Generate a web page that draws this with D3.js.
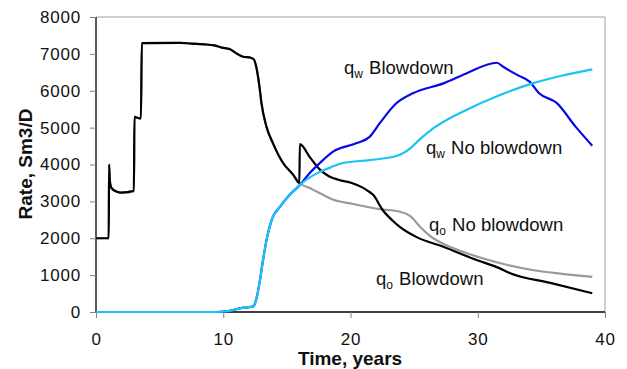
<!DOCTYPE html>
<html>
<head>
<meta charset="utf-8">
<script src="https://d3js.org/d3.v7.min.js"></script>
<style>
  html, body { margin: 0; padding: 0; background: #fff; }
  svg { display: block; font-family: "Liberation Sans", Arial, sans-serif; }
</style>
</head>
<body>
<svg id="chart" width="627" height="369"></svg>
<script>
// Axis ticks
const xTicks = [0, 10, 20, 30, 40];
const yTicks = [0, 1000, 2000, 3000, 4000, 5000, 6000, 7000, 8000];

// Oil rate, blowdown case (time in years, rate in Sm3/D)
const oilBlowT = [0, 1.0, 1.03, 1.08, 1.15, 1.3, 1.6, 2.0, 2.5, 2.9, 2.98, 3.02, 3.45, 3.53, 3.6, 6.6, 7.5, 8.5, 9.3, 9.9, 10.5, 11.0, 11.5, 12.2, 12.4, 12.6, 12.85, 13.0, 13.4, 13.9, 14.7, 15.5, 15.98,
  16.02, 16.8, 17.6, 18.3, 19.1, 20.1, 20.8, 21.3, 21.8, 22.5, 23.3, 23.9, 25.2, 27.3, 29.9, 31.7, 32.5, 35.7, 39.0];
const oilBlowQ = [2000, 2000, 4000, 3600, 3420, 3330, 3270, 3240, 3250, 3280, 3280, 5290, 5250, 5250, 7290, 7300, 7280, 7260, 7230, 7170, 7130, 7020, 6930, 6890, 6850, 6640, 6100, 5670, 5020, 4580, 4040, 3720, 3500,
  4550, 4200, 3860, 3680, 3580, 3500, 3400, 3300, 3170, 2780, 2480, 2300, 2030, 1770, 1410, 1190, 1060, 790, 510];

// Oil rate, no blowdown case
const oilNoBlowT = [0, 1.0, 1.03, 1.08, 1.15, 1.3, 1.6, 2.0, 2.5, 2.9, 2.98, 3.02, 3.45, 3.53, 3.6, 6.6, 7.5, 8.5, 9.3, 9.9, 10.5, 11.0, 11.5, 12.2, 12.4, 12.6, 12.85, 13.0, 13.4, 13.9, 14.7, 15.5, 16.0,
  16.8, 17.6, 18.6, 20.2, 22.3, 23.9, 24.7, 25.5, 26.5, 27.5, 29.1, 31.7, 34.3, 36.5, 39.0];
const oilNoBlowQ = [2000, 2000, 4000, 3600, 3420, 3330, 3270, 3240, 3250, 3280, 3280, 5290, 5250, 5250, 7290, 7300, 7280, 7260, 7230, 7170, 7130, 7020, 6930, 6890, 6850, 6640, 6100, 5670, 5020, 4580, 4040, 3720, 3500,
  3360, 3220, 3050, 2930, 2790, 2720, 2600, 2300, 2000, 1820, 1600, 1330, 1140, 1040, 950];

// Water rate, blowdown case
const watBlowT = [0, 9.5, 10.5, 11.3, 12.3, 12.4, 12.6, 12.9, 13.1, 13.4, 13.9, 14.45, 15.2, 16.0,
  16.8, 17.6, 18.6, 20.5, 21.5, 22.3, 23.6, 24.9, 27.3, 29.1, 31.5, 32.0, 33.1, 34.1, 34.8, 36.2, 37.7, 39.0];
const watBlowQ = [0, 0, 30, 100, 150, 170, 350, 900, 1350, 1950, 2580, 2850, 3170, 3440,
  3770, 4040, 4340, 4580, 4750, 5120, 5660, 5930, 6200, 6470, 6760, 6650, 6430, 6240, 5940, 5670, 5020, 4510];

// Water rate, no blowdown case
const watNoBlowT = [0, 9.5, 10.5, 11.3, 12.3, 12.4, 12.6, 12.9, 13.1, 13.4, 13.9, 14.45, 15.2, 16.0,
  16.8, 17.6, 18.5, 19.4, 21.5, 23.6, 24.7, 25.5, 26.5, 29.1, 31.7, 34.3, 36.5, 39.0];
const watNoBlowQ = [0, 0, 30, 100, 150, 170, 350, 900, 1350, 1950, 2580, 2850, 3170, 3440,
  3650, 3800, 3930, 4040, 4120, 4230, 4440, 4700, 4980, 5480, 5880, 6200, 6400, 6580];

const svg = d3.select("#chart");
const x = d3.scaleLinear().domain([0, 40]).range([96, 605]);
const y = d3.scaleLinear().domain([0, 8000]).range([312, 17]);

// Plot frame: light top/right border
svg.append("path")
  .attr("d", `M${x(0)},${y(8000)}H${x(40)}V${y(0)}`)
  .attr("fill", "none").attr("stroke", "#a0a0a0").attr("stroke-width", 1);

// Y axis
const yAxis = svg.append("g").attr("transform", `translate(${x(0)},0)`)
  .call(d3.axisLeft(y).tickValues(yTicks).tickSize(6).tickPadding(9).tickFormat(d3.format("d")));
// X axis
const xAxis = svg.append("g").attr("transform", `translate(0,${y(0)})`)
  .call(d3.axisBottom(x).tickValues(xTicks).tickSize(6).tickPadding(15).tickFormat(d3.format("d")));

[yAxis, xAxis].forEach(g => {
  g.select(".domain").attr("stroke", "#000").attr("stroke-width", 1.3);
  g.selectAll(".tick line").attr("stroke", "#808080");
  g.selectAll(".tick text").attr("fill", "#111").attr("font-size", 17)
    .attr("font-family", "'Liberation Sans', Arial, sans-serif")
    .style("letter-spacing", "0.8px");
});
yAxis.select(".domain").attr("d", `M0,${y(8000)}V${y(0)}`);
xAxis.select(".domain").attr("d", `M${x(0)},0H${x(40)}`);

// Axis titles
svg.append("text")
  .attr("x", 350).attr("y", 365)
  .attr("text-anchor", "middle").attr("font-weight", "bold").attr("font-size", 19)
  .attr("fill", "#111")
  .text("Time, years");
svg.append("text")
  .attr("transform", "translate(32,164) rotate(-90)")
  .attr("text-anchor", "middle").attr("font-weight", "bold").attr("font-size", 19)
  .attr("fill", "#111")
  .text("Rate, Sm3/D");

// Series lines
const line = d3.line().curve(d3.curveMonotoneX).x(d => x(d[0])).y(d => y(d[1]));
const series = [
  { t: oilNoBlowT, q: oilNoBlowQ, color: "#9a9a9a" },
  { t: oilBlowT, q: oilBlowQ, color: "#000000" },
  { t: watBlowT, q: watBlowQ, color: "#0a0ae6" },
  { t: watNoBlowT, q: watNoBlowQ, color: "#19c3f5" }
];
series.forEach(s => {
  svg.append("path")
    .datum(d3.zip(s.t, s.q))
    .attr("d", line)
    .attr("fill", "none")
    .attr("stroke", s.color)
    .attr("stroke-width", 2.2)
    .attr("stroke-linejoin", "round");
});

// Curve labels with subscripted phase letter
const labels = [
  { sub: "w", rest: " Blowdown", xPos: 344, yPos: 74 },
  { sub: "w", rest: " No blowdown", xPos: 426, yPos: 154 },
  { sub: "o", rest: " No blowdown", xPos: 429, yPos: 231 },
  { sub: "o", rest: " Blowdown", xPos: 376, yPos: 285 }
];
labels.forEach(l => {
  const t = svg.append("text")
    .attr("x", l.xPos).attr("y", l.yPos)
    .attr("font-size", 18.5).attr("fill", "#111");
  t.append("tspan").text("q");
  t.append("tspan").attr("font-size", 12).attr("dy", 4).text(l.sub);
  t.append("tspan").attr("dy", -4).attr("dx", 1).text(l.rest);
});
</script>
</body>
</html>
